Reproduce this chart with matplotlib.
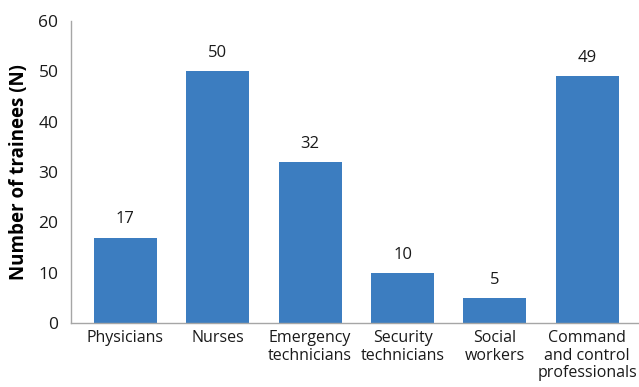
import numpy as np
import matplotlib.pyplot as plt

# trainees per profession
categories = ['Physicians', 'Nurses', 'Emergency\ntechnicians', 'Security\ntechnicians',
              'Social\nworkers', 'Command\nand control\nprofessionals']
trainees = [17, 50, 32, 10, 5, 49]

plt.rcParams['font.family'] = ['Open Sans', 'DejaVu Sans']

fig = plt.figure(figsize=(6.39, 3.87), dpi=100)
ax = fig.add_axes([0.111, 0.165, 0.889, 0.781])

x = np.arange(len(categories))
bars = ax.bar(x, trainees, width=0.68, color='#3C7DC0')

for xi, v in zip(x, trainees):
    ax.text(xi, v + 2.0, str(v), ha='center', va='bottom', fontsize=12, color='#1a1a1a')

ax.set_xlim(-0.59, 5.56)
ax.set_ylim(0, 60)
ax.set_yticks(range(0, 61, 10))
ax.set_xticks(x)
ax.set_xticklabels(categories, color='#1a1a1a', linespacing=1.12, va='top')
ax.tick_params(axis='both', length=0, colors='#1a1a1a')
ax.tick_params(axis='x', pad=5, labelsize=11.5)
ax.tick_params(axis='y', pad=9, labelsize=12.5)
ax.set_ylabel('Number of trainees (N)', fontsize=13.5, fontweight='bold', labelpad=7)

for s in ['top', 'right']:
    ax.spines[s].set_visible(False)
for s in ['left', 'bottom']:
    ax.spines[s].set_color('#A6A6A6')
    ax.spines[s].set_linewidth(1)

fig.savefig('out.png', dpi=100)
